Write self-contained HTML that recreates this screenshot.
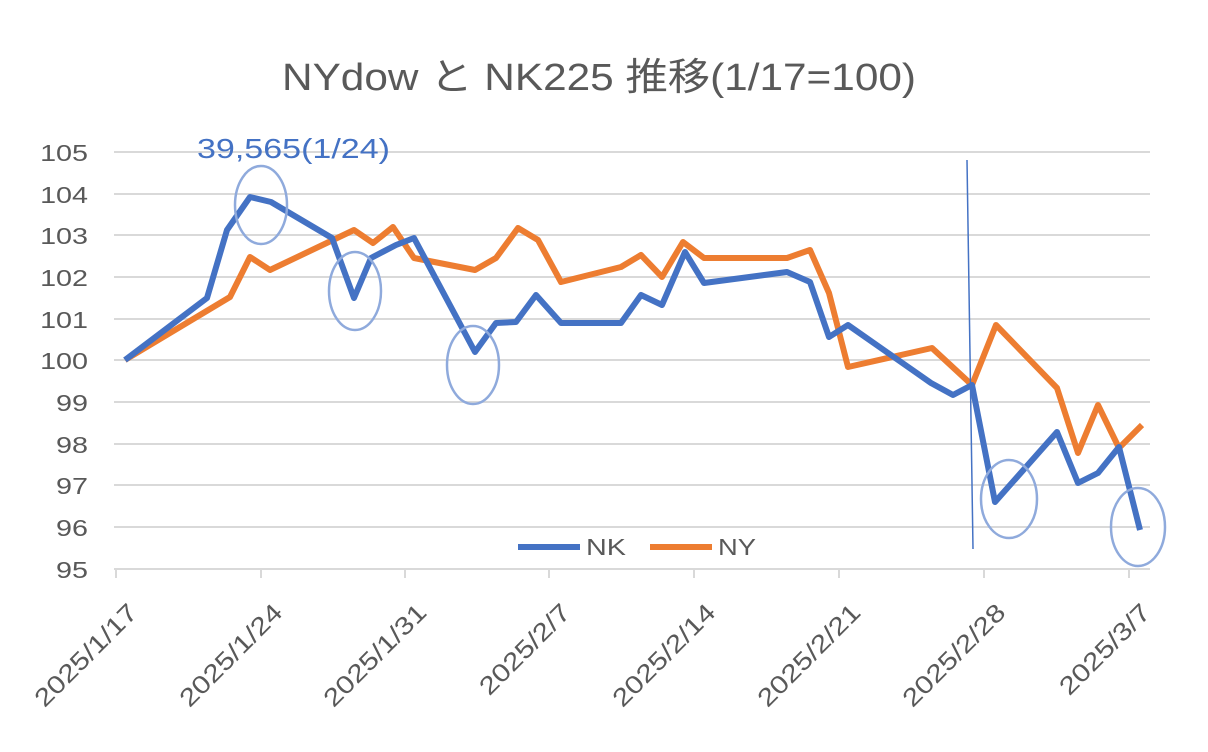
<!DOCTYPE html><html><head><meta charset="utf-8"><style>body{margin:0;background:#fff}svg{display:block}</style></head><body>
<svg width="1208" height="752" xmlns="http://www.w3.org/2000/svg" font-family="Liberation Sans, Noto Sans CJK JP, sans-serif">
<rect width="1208" height="752" fill="#fff"/>
<text x="282" y="90" font-size="38" fill="#595959" textLength="634" lengthAdjust="spacingAndGlyphs">NYdow と NK225 推移(1/17=100)</text>
<g stroke="#d9d9d9" stroke-width="2">
<line x1="114" x2="1150" y1="152" y2="152"/><line x1="114" x2="1150" y1="194" y2="194"/><line x1="114" x2="1150" y1="235" y2="235"/><line x1="114" x2="1150" y1="277" y2="277"/><line x1="114" x2="1150" y1="319" y2="319"/><line x1="114" x2="1150" y1="360" y2="360"/><line x1="114" x2="1150" y1="402" y2="402"/><line x1="114" x2="1150" y1="444" y2="444"/><line x1="114" x2="1150" y1="485" y2="485"/><line x1="114" x2="1150" y1="527" y2="527"/><line x1="114" x2="1150" y1="569" y2="569"/>
<line x1="116" x2="116" y1="569" y2="578"/><line x1="261" x2="261" y1="569" y2="578"/><line x1="405" x2="405" y1="569" y2="578"/><line x1="549" x2="549" y1="569" y2="578"/><line x1="694" x2="694" y1="569" y2="578"/><line x1="839" x2="839" y1="569" y2="578"/><line x1="984" x2="984" y1="569" y2="578"/><line x1="1129" x2="1129" y1="569" y2="578"/>
</g>
<g font-size="23" fill="#595959" text-anchor="end">
<g transform="translate(88,161) scale(1.25,1)"><text>105</text></g>
<g transform="translate(88,203) scale(1.25,1)"><text>104</text></g>
<g transform="translate(88,244) scale(1.25,1)"><text>103</text></g>
<g transform="translate(88,286) scale(1.25,1)"><text>102</text></g>
<g transform="translate(88,328) scale(1.25,1)"><text>101</text></g>
<g transform="translate(88,369) scale(1.25,1)"><text>100</text></g>
<g transform="translate(88,411) scale(1.25,1)"><text>99</text></g>
<g transform="translate(88,453) scale(1.25,1)"><text>98</text></g>
<g transform="translate(88,494) scale(1.25,1)"><text>97</text></g>
<g transform="translate(88,536) scale(1.25,1)"><text>96</text></g>
<g transform="translate(88,578) scale(1.25,1)"><text>95</text></g>
</g>
<g font-size="25" fill="#595959" text-anchor="end">
<text transform="translate(139,614) rotate(-45) scale(1.2,1)">2025/1/17</text>
<text transform="translate(284,614) rotate(-45) scale(1.2,1)">2025/1/24</text>
<text transform="translate(428,614) rotate(-45) scale(1.2,1)">2025/1/31</text>
<text transform="translate(572,614) rotate(-45) scale(1.2,1)">2025/2/7</text>
<text transform="translate(717,614) rotate(-45) scale(1.2,1)">2025/2/14</text>
<text transform="translate(862,614) rotate(-45) scale(1.2,1)">2025/2/21</text>
<text transform="translate(1007,614) rotate(-45) scale(1.2,1)">2025/2/28</text>
<text transform="translate(1152,614) rotate(-45) scale(1.2,1)">2025/3/7</text>
</g>
<polyline fill="none" stroke="#ED7D31" stroke-width="6" stroke-linejoin="round" points="125,360 230,297 250,257 270,270 354,230 373,243 393,227 414,258 475,270 496,258 518,228 538,240 561,282 621,267 641,255 662,277 683,242 704,258 787,258 810,250 829,293 848,367 932,348 972,385 996,325 1057,388 1078,453 1098,405 1119,448 1142,425"/>
<polyline fill="none" stroke="#4472C4" stroke-width="6" stroke-linejoin="round" points="125,360 207,298 227,230 250,197 271,202 332,238 354,298 371,258 396,245 414,238 475,352 496,323 516,322 536,295 561,323 621,323 641,295 662,305 685,252 704,283 787,272 810,282 829,337 848,325 931,383 953,395 972,385 995,502 1057,432 1078,483 1098,473 1119,447 1140,530"/>
<line x1="967" y1="160" x2="973" y2="549" stroke="#4472C4" stroke-width="1.5"/>
<g fill="none" stroke="#8FAADC" stroke-width="2.5">
<ellipse cx="261" cy="205" rx="26" ry="39"/><ellipse cx="355" cy="291" rx="26" ry="39"/><ellipse cx="473" cy="365" rx="26" ry="39"/><ellipse cx="1009" cy="499" rx="28" ry="39"/><ellipse cx="1138" cy="527" rx="27" ry="39"/>
</g>
<text x="197" y="158" font-size="28" fill="#4472C4" textLength="193" lengthAdjust="spacingAndGlyphs">39,565(1/24)</text>
<line x1="518" x2="580" y1="547" y2="547" stroke="#4472C4" stroke-width="6"/>
<text x="586" y="555" font-size="23" fill="#595959" textLength="40" lengthAdjust="spacingAndGlyphs">NK</text>
<line x1="650" x2="712" y1="547" y2="547" stroke="#ED7D31" stroke-width="6"/>
<text x="718" y="555" font-size="23" fill="#595959" textLength="38" lengthAdjust="spacingAndGlyphs">NY</text>
</svg>
</body></html>
